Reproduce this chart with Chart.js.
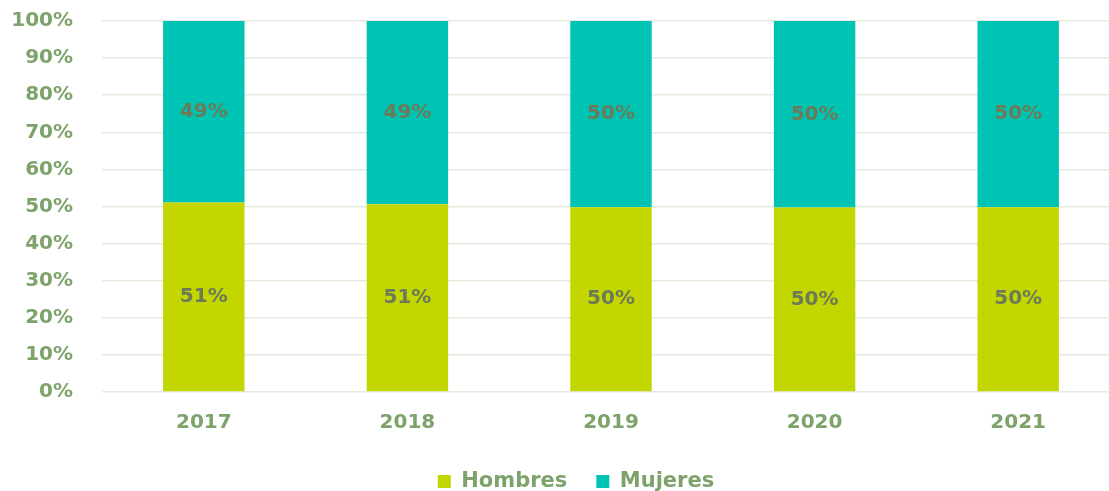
<!DOCTYPE html>
<html>
<head>
<meta charset="utf-8">
<script src="https://cdn.jsdelivr.net/npm/chart.js@4"></script>
<style>
  html, body { margin: 0; padding: 0; background: #fff; overflow: hidden; }
  #wrap { position: relative; width: 1152px; height: 522px; margin-top: -20px; }
</style>
</head>
<body>
<div id="wrap"><canvas id="chart"></canvas></div>
<script>
// data
var years = ['2017', '2018', '2019', '2020', '2021'];
var hombres = [51.1, 50.6, 49.8, 49.7, 49.8];
var mujeres = [48.9, 49.4, 50.2, 50.3, 50.2];
var yTicks = [0, 10, 20, 30, 40, 50, 60, 70, 80, 90, 100];

var green = '#7da36b';
var labelColor = '#6c7a57';
var font = { family: 'DejaVu Sans', size: 20, weight: 'bold' };

// draws the % value in the middle of every bar piece
var barLabels = {
  id: 'barLabels',
  afterLayout: function(chart) {
    // legend is centred on the full width in the original
    chart.legend.left = 32;
  },
  afterDatasetsDraw: function(chart) {
    var ctx = chart.ctx;
    ctx.save();
    ctx.font = 'bold 20px "DejaVu Sans"';
    ctx.fillStyle = labelColor;
    ctx.textAlign = 'center';
    ctx.textBaseline = 'middle';
    chart.data.datasets.forEach(function(ds, i) {
      var meta = chart.getDatasetMeta(i);
      meta.data.forEach(function(bar, j) {
        var mid = (bar.y + bar.base) / 2;
        ctx.fillText(Math.round(ds.data[j]) + '%', bar.x, mid);
      });
    });
    ctx.restore();
  }
};

new Chart(document.getElementById('chart'), {
  type: 'bar',
  data: {
    labels: years,
    datasets: [
      { label: 'Hombres', data: hombres, backgroundColor: '#c4d600', barPercentage: 0.4, categoryPercentage: 1 },
      { label: 'Mujeres', data: mujeres, backgroundColor: '#00c4b3', barPercentage: 0.4, categoryPercentage: 1 }
    ]
  },
  options: {
    responsive: true,
    maintainAspectRatio: false,
    animation: false,
    layout: { padding: { top: 2, right: 32, left: 0, bottom: 0 } },
    plugins: {
      tooltip: { enabled: false },
      legend: {
        position: 'bottom',
        labels: {
          boxWidth: 13, boxHeight: 13, padding: 29,
          color: green, font: { family: 'DejaVu Sans', size: 21, weight: 'bold' }
        }
      }
    },
    scales: {
      x: {
        stacked: true,
        grid: { display: false },
        border: { display: false },
        ticks: { color: green, font: font, padding: 11 },
        afterFit: function(s) { s.height = 50; }
      },
      y: {
        stacked: true,
        min: 0, max: 100,
        afterBuildTicks: function(s) { s.ticks = yTicks.map(function(v) { return { value: v }; }); },
        grid: { color: '#e4ebde', lineWidth: 1.5, drawTicks: false },
        border: { display: false },
        ticks: { color: green, font: font, padding: 29, callback: function(v) { return v + '%'; } },
        afterFit: function(s) { s.width = 102; }
      }
    }
  },
  plugins: [barLabels]
});
</script>
</body>
</html>
